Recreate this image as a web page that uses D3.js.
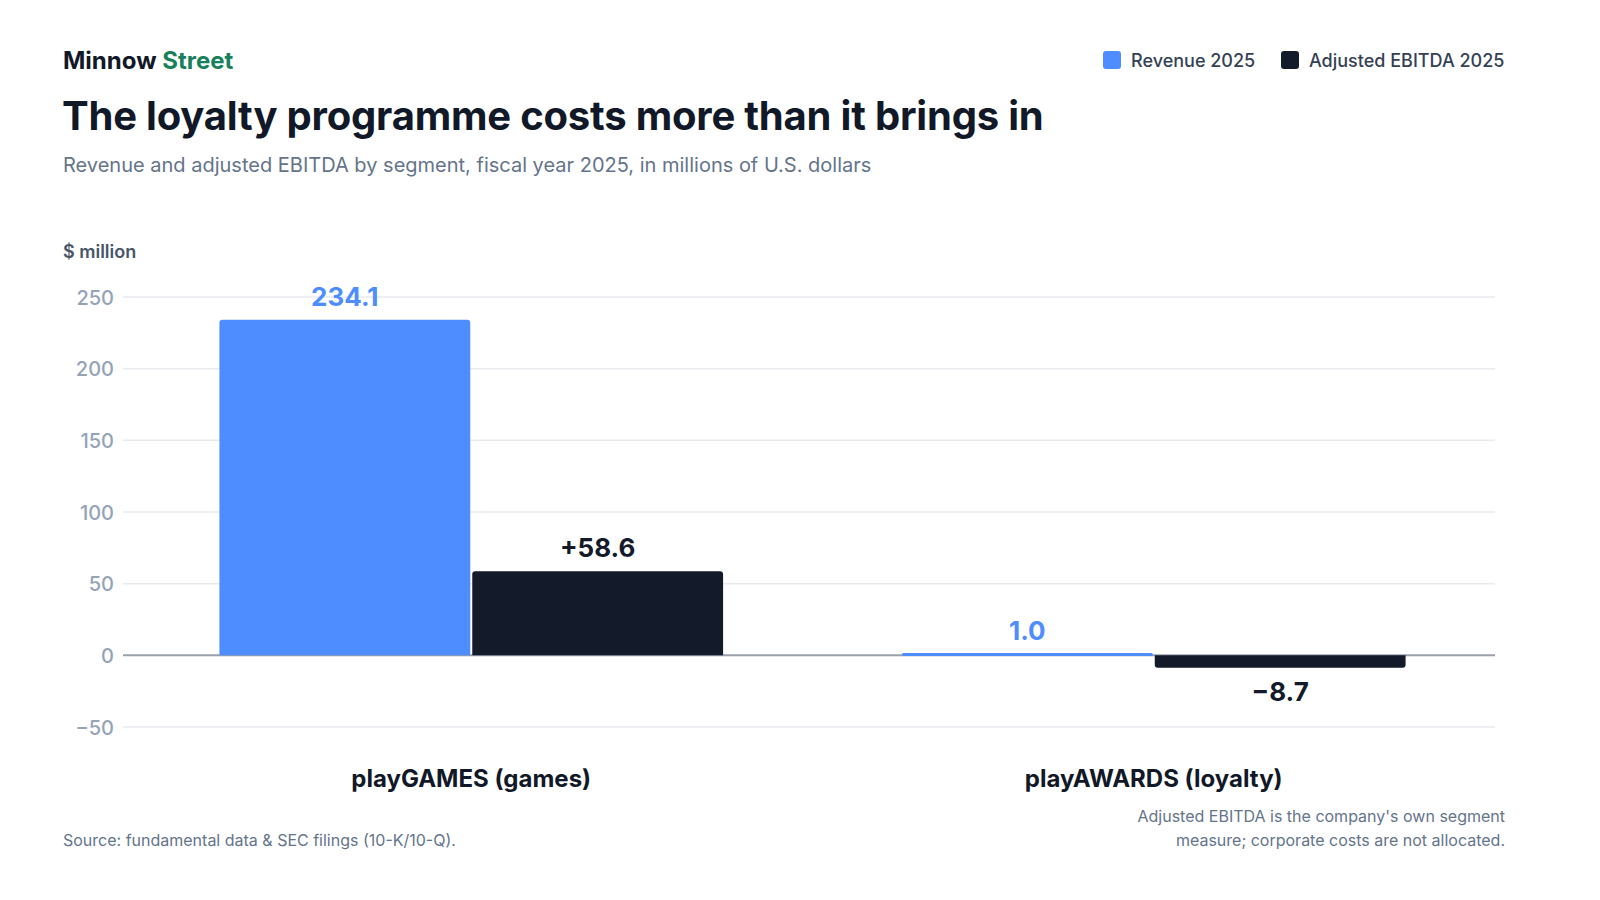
<!DOCTYPE html>
<html><head><meta charset="utf-8">
<script src="https://cdn.jsdelivr.net/npm/d3@7"></script>
<style>
html,body{margin:0;padding:0;background:#fff;}
svg text{font-family:Inter,"Noto Sans",sans-serif;}
</style></head>
<body><svg id="c" width="1600" height="900"></svg>
<script>
const categories = ["playGAMES (games)", "playAWARDS (loyalty)"];
const seriesNames = ["Revenue 2025", "Adjusted EBITDA 2025"];
const revenue = [234.1, 1.0];
const ebitda = [58.6, -8.7];
const yTicks = [-50, 0, 50, 100, 150, 200, 250];
const colors = ["#4d8dff", "#131a2a"];

const svg = d3.select("#c");
const W = 1600, H = 900;
svg.append("rect").attr("width", W).attr("height", H).attr("fill", "#fff");

// Header
const brand = svg.append("text").attr("x", 63).attr("y", 69).attr("font-size", 24).attr("font-weight", 700);
brand.append("tspan").attr("fill", "#111827").text("Minnow ");
brand.append("tspan").attr("fill", "#17805c").text("Street");
svg.append("text").attr("x", 62).attr("y", 130).attr("font-size", 40).attr("font-weight", 700)
  .attr("fill", "#111827").attr("letter-spacing", -0.2).text("The loyalty programme costs more than it brings in");
svg.append("text").attr("x", 63).attr("y", 172).attr("font-size", 20).attr("fill", "#64748b")
  .text("Revenue and adjusted EBITDA by segment, fiscal year 2025, in millions of U.S. dollars");

// Legend
const legend = svg.append("g");
const legX = [1103, 1281];
seriesNames.forEach((n, i) => {
  legend.append("rect").attr("x", legX[i]).attr("y", 51).attr("width", 18).attr("height", 18).attr("rx", 3).attr("fill", colors[i]);
  legend.append("text").attr("x", legX[i] + 28).attr("y", 67).attr("font-size", 18).attr("font-weight", 500).attr("fill", "#334155").text(n);
});

// Scales
const y = d3.scaleLinear().domain([-50, 250]).range([727, 297]);
const x0 = d3.scaleBand().domain(categories).range([130, 1495]).paddingInner(0.262).paddingOuter(0.131);
const x1 = d3.scaleBand().domain(seriesNames).range([0, x0.bandwidth()]).paddingInner(0.008);

svg.append("text").attr("x", 63).attr("y", 258).attr("font-size", 18).attr("font-weight", 600).attr("fill", "#475569").text("$ million");

// Grid
const grid = svg.append("g");
yTicks.forEach(t => {
  grid.append("line").attr("x1", 123).attr("x2", 1495).attr("y1", y(t)).attr("y2", y(t))
    .attr("stroke", t === 0 ? "#9aa1ad" : "#e8eaee").attr("stroke-width", t === 0 ? 2 : 1.5);
});
const yAxis = svg.append("g").attr("transform", "translate(114,0)")
  .call(d3.axisLeft(y).tickValues(yTicks).tickSize(0).tickPadding(0).tickFormat(d => d < 0 ? "\u2212" + Math.abs(d) : d));
yAxis.select(".domain").remove();
yAxis.selectAll("text").attr("font-size", 20).attr("font-weight", 500).attr("fill", "#94a3b8").attr("font-family", "Inter,sans-serif").attr("dy", "0.35em");

// Bars
const data = categories.map((c, i) => ({ cat: c, vals: [{ s: seriesNames[0], v: revenue[i], k: 0 }, { s: seriesNames[1], v: ebitda[i], k: 1 }] }));
const r = 3;
function barPath(x, w, v) {
  const y0 = y(0), y1 = y(v);
  const h = Math.abs(y1 - y0);
  const rr = Math.min(r, h);
  if (v >= 0) {
    return `M${x},${y0}V${y1 + rr}Q${x},${y1} ${x + rr},${y1}H${x + w - rr}Q${x + w},${y1} ${x + w},${y1 + rr}V${y0}Z`;
  } else {
    return `M${x},${y0}V${y1 - rr}Q${x},${y1} ${x + rr},${y1}H${x + w - rr}Q${x + w},${y1} ${x + w},${y1 - rr}V${y0}Z`;
  }
}
const g = svg.append("g");
data.forEach(d => {
  d.vals.forEach(b => {
    const bx = x0(d.cat) + x1(b.s), bw = x1.bandwidth();
    if (Math.abs(y(b.v) - y(0)) < 3) {
      g.append("rect").attr("x", bx).attr("y", y(Math.max(0, b.v)) - 1).attr("width", bw).attr("height", Math.max(3, Math.abs(y(b.v) - y(0))))
        .attr("rx", 1.5).attr("fill", colors[b.k]);
    } else {
      g.append("path").attr("d", barPath(bx, bw, b.v)).attr("fill", colors[b.k]);
    }
    const label = b.k === 0 ? b.v.toFixed(1) : (b.v >= 0 ? "+" + b.v.toFixed(1) : "\u2212" + Math.abs(b.v).toFixed(1));
    const ly = b.v >= 0 ? y(b.v) - 14 : y(b.v) + 33;
    g.append("text").attr("x", bx + bw / 2).attr("y", ly).attr("text-anchor", "middle")
      .attr("font-size", 26).attr("font-weight", 700).attr("fill", colors[b.k]).text(label);
  });
  svg.append("text").attr("x", x0(d.cat) + x0.bandwidth() / 2).attr("y", 787).attr("text-anchor", "middle")
    .attr("font-size", 24).attr("font-weight", 700).attr("fill", "#111827").text(d.cat);
});

// Footer
svg.append("text").attr("x", 63).attr("y", 846).attr("font-size", 16).attr("fill", "#64748b")
  .text("Source: fundamental data & SEC filings (10-K/10-Q).");
const note = svg.append("text").attr("text-anchor", "end").attr("font-size", 16).attr("fill", "#64748b");
note.append("tspan").attr("x", 1505).attr("y", 822).text("Adjusted EBITDA is the company's own segment");
note.append("tspan").attr("x", 1505).attr("y", 846).text("measure; corporate costs are not allocated.");
</script></body></html>
